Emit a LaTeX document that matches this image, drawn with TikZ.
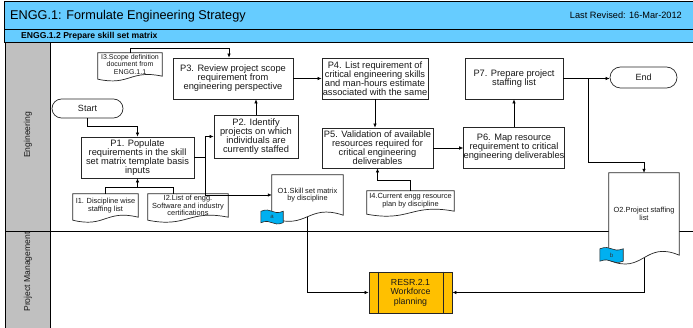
\documentclass[tikz,border=0pt]{standalone}
\usepackage{fontspec}
\setmainfont{Liberation Sans}
\usetikzlibrary{arrows.meta,shapes.misc,calc}
\pgfdeclarelayer{frame}
\pgfdeclarelayer{docs}
\pgfsetlayers{frame,docs,main}
\definecolor{barblue}{HTML}{66CCFF}
\definecolor{lanegray}{HTML}{C0C0C0}
\definecolor{flagblue}{HTML}{00B0F0}
\definecolor{resrgold}{HTML}{FFC000}
\newcommand\fsz[2]{\fontsize{#1}{#2}\selectfont}
% document symbol: flat top, wavy bottom (right end at node south east)
\newcommand\docoutline[3]{%
  \draw[docline] (#1.north west) -- (#1.north east) -- (#1.south east)
    .. controls ($(#1.south)+(0pt,#2pt)$) and ($(#1.south)+(0pt,-#2pt-#3pt)$)
    .. ($(#1.south west)+(0pt,-#3pt)$) -- cycle;}
% off-page flag: wavy top and bottom
\newcommand\flagoutline[2]{%
  \draw[flagline] (#1.north west)
    .. controls ($(#1.north)+(0pt,#2pt)$) and ($(#1.north)+(0pt,-#2pt)$) .. (#1.north east)
    -- (#1.south east)
    .. controls ($(#1.south)+(0pt,-#2pt)$) and ($(#1.south)+(0pt,#2pt)$) .. (#1.south west)
    -- cycle;}
\tikzset{
  proc/.style={draw=black!85, line width=0.8pt, fill=white, align=center,
    inner sep=0pt, text=black!90, font=\fsz{9.3}{9}},
  term/.style={rounded rectangle, draw=black!85, line width=0.7pt, fill=white,
    inner sep=0pt, text=black!90, font=\fsz{9}{9}},
  doc/.style={align=center, inner sep=0pt, text=black!90, font=\fsz{7.4}{7.7}},
  docline/.style={draw=black!85, line width=0.7pt, fill=white},
  flagline/.style={draw=black!85, line width=0.6pt, fill=flagblue},
  flagtext/.style={inner sep=0pt, text=black!80, font=\fsz{6}{6}},
  conn/.style={line width=0.6pt, black},
  arr/.style={conn, -{Latex[length=4pt,width=3.5pt]}},
  lanelabel/.style={rotate=90, inner sep=0pt, text=black!90, font=\fsz{8.6}{9}},
}
\begin{document}
\begin{tikzpicture}[x=1pt,y=-1pt]
\useasboundingbox (0,0) rectangle (693,328);

% swimlane frame
\begin{pgfonlayer}{frame}
  \draw[fill=barblue, line width=0.8pt] (4,1) rectangle (697,29);
  \draw[fill=barblue, line width=0.8pt] (4,29) rectangle (697,42);
  \draw[fill=lanegray, line width=0.8pt] (5,42) rectangle (50,332);
  \draw[line width=0.8pt] (5,231) -- (697,231);
\end{pgfonlayer}

\node[anchor=base west, inner sep=0pt, font=\fsz{12.7}{13}] (title) at (10,20)
  {ENGG.1: Formulate Engineering Strategy};
\node[anchor=base east, inner sep=0pt, font=\fsz{9.2}{10}] (rev) at (682,19)
  {Last Revised: 16-Mar-2012};
\node[anchor=base west, inner sep=0pt, font=\bfseries\fsz{8.6}{9}] (sub) at (21,38.3)
  {ENGG.1.2 Prepare skill set matrix};
\node[lanelabel] (laneE) at (28,135) {Engineering};
\node[lanelabel] (lanePM) at (28,272) {Project Management};

% terminators
\node[term, minimum width=71pt, minimum height=19pt] (Start) at (87.5,108.5) {Start};
\node[term, minimum width=67pt, minimum height=21pt] (End) at (643.5,77.5) {End};

% process steps
\node[proc, minimum width=113pt, minimum height=41pt] (P1) at (137.5,157.5)
  {P1. Populate\\requirements in the skill\\set matrix template basis\\inputs};
\node[proc, minimum width=84pt, minimum height=43pt] (P2) at (256,136.5)
  {P2. Identify\\projects on which\\individuals are\\currently staffed};
\node[proc, minimum width=120pt, minimum height=41pt] (P3) at (233,78.5)
  {P3. Review project scope\\requirement from\\engineering perspective};
\node[proc, minimum width=106pt, minimum height=41pt] (P4) at (375,78.5)
  {P4. List requirement of\\critical engineering skills\\and man-hours estimate\\associated with the same};
\node[proc, minimum width=111pt, minimum height=40pt] (P5) at (377.5,148)
  {P5. Validation of available\\resources required for\\critical engineering\\deliverables};
\node[proc, minimum width=98pt, minimum height=41pt] (P6) at (514,147.5)
  {P6. Map resource\\requirement to critical\\engineering deliverables};
\node[proc, minimum width=98pt, minimum height=41pt] (P7) at (514,78.5)
  {P7. Prepare project\\staffing list};

% linked process in the other lane
\node[proc, fill=resrgold, minimum width=83pt, minimum height=41pt,
  font=\fsz{8.8}{9.5}] (RESR) at (410.5,292.5) {RESR.2.1\\Workforce\\planning};
\draw[line width=0.8pt, draw=black!85] ([xshift=10pt]RESR.north west) -- ([xshift=10pt]RESR.south west);
\draw[line width=0.8pt, draw=black!85] ([xshift=-9pt]RESR.north east) -- ([xshift=-9pt]RESR.south east);

% documents
\node[doc, minimum width=64pt, minimum height=23pt, font=\fsz{7}{7.8}] (I3) at (130,64.5)
  {I3.Scope definition\\document from\\ENGG.1.1};
\node[doc, minimum width=65pt, minimum height=23pt] (I1) at (105.5,205.5)
  {I1. Discipline wise\\staffing list};
\node[doc, minimum width=80pt, minimum height=23pt] (I2) at (188,205.5)
  {I2.List of engg.\\Software and industry\\certifications};
\node[doc, minimum width=87pt, minimum height=20pt] (I4) at (410.5,201)
  {I4.Current engg resource\\plan by discipline};
\node[doc, minimum width=71pt, minimum height=40pt] (O1) at (307.5,195)
  {O1.Skill set matrix\\by discipline};
\node[doc, minimum width=70pt, minimum height=82pt] (O2) at (644,214)
  {O2.Project staffing\\list};

% off-page flags
\node[flagtext, minimum width=22pt, minimum height=11pt] (fa) at (272,217) {a};
\node[flagtext, minimum width=23pt, minimum height=12pt] (fb) at (611.5,255) {b};

\begin{pgfonlayer}{docs}
  \docoutline{I3}{7}{3}
  \docoutline{I1}{8}{3}
  \docoutline{I2}{8}{3}
  \docoutline{I4}{8}{3}
  \docoutline{O1}{12}{3}
  \docoutline{O2}{15}{5}
  \flagoutline{fa}{4.5}
  \flagoutline{fb}{4.5}
\end{pgfonlayer}

% connectors
\coordinate (j2) at (205,157.5);
\coordinate (j1) at (588,78.5);
\draw[arr] (Start.south) |- ([yshift=10pt]P1.north) -- (P1.north);
\draw[conn] (P1.east) -- (j2);
\draw[arr] (j2) |- (P2.west);
\draw[arr] (j2) |- (O1.west);
\draw[arr] (P2.north) -- (P2.north |- P3.south);
\draw[arr] (I3.north) -- ++(0pt,4pt) -| ([xshift=-4pt]P3.north);
\draw[arr] (P3.east) -- (P4.west);
\draw[arr] (P4.south) -- (P4.south |- P5.north);
\draw[arr] (P5.east) -- (P5.east -| P6.west);
\draw[arr] (P6.north) -- (P7.south);
\draw[conn] (P7.east) -- (j1);
\draw[arr] (j1) -- (j1 -| End.west);
\draw[arr] (j1) |- ([yshift=10pt]O2.north) -- (O2.north);
\draw[arr] (I1.north) |- ([yshift=-9pt]P1.south) -- (P1.south);
\draw[conn] ([xshift=-15pt]I2.north) |- ([yshift=-9pt]P1.south);
\draw[arr] (I4.north) -- ++(0pt,10pt) -| (P5.south);
\draw[arr] ([yshift=-1.5pt]O1.south) |- (RESR.west);
\draw[arr] ([yshift=-2.5pt]O2.south) |- (RESR.east);
\end{tikzpicture}
\end{document}
